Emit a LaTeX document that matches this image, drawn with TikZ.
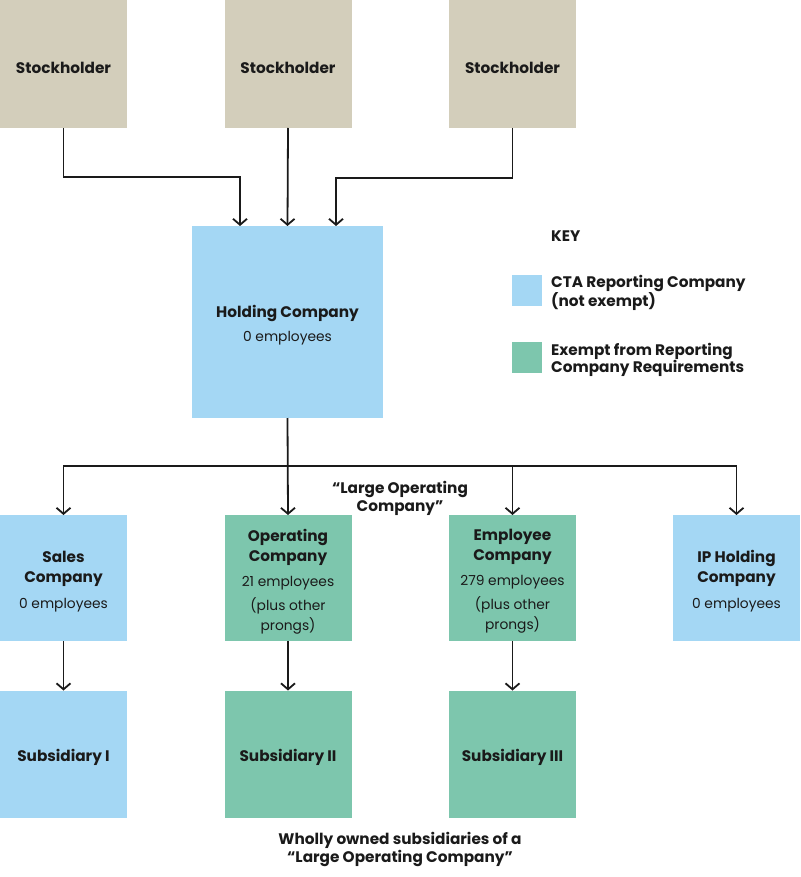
\documentclass[tikz,border=0pt]{standalone}
\usepackage{fontspec}
\setmainfont{Poppins}
\usetikzlibrary{arrows.meta}
\definecolor{beige}{HTML}{D3CEBB}
\definecolor{ctablue}{HTML}{A4D7F4}
\definecolor{exgreen}{HTML}{7DC6AD}
\definecolor{ink}{HTML}{1A1A1A}
\tikzset{
  box/.style={draw=none, inner sep=0pt, outer sep=0pt},
  txt/.style={align=center, inner sep=0pt, text=ink, font=\fontsize{13.8}{20}\selectfont, yshift=-3.5pt},
  stockbox/.style={box, fill=beige, minimum width=127pt, minimum height=128pt},
  bluebox/.style={box, fill=ctablue},
  greenbox/.style={box, fill=exgreen},
  smallbox/.style={minimum width=127pt, minimum height=126pt},
  arr/.style={draw=ink, line width=1.8pt, -{Straight Barb[length=6pt,width=14pt,line width=1.8pt]}},
  keytext/.style={anchor=west, align=left, inner sep=0pt, text=ink, font=\fontsize{15.3}{17.5}\selectfont\bfseries},
  lbl/.style={align=center, inner sep=0pt, text=ink, font=\fontsize{15.3}{18.5}\selectfont\bfseries}
}
\newcommand{\bt}[1]{{\fontsize{15.3}{20}\selectfont\bfseries #1}}
\begin{document}
\begin{tikzpicture}[x=1pt,y=-1pt]
\useasboundingbox (0,0) rectangle (800,877);
% stockholders
\node[stockbox, label={[txt]center:\bt{Stockholder}}] (s1) at (63.5,64) {};
\node[stockbox, label={[txt]center:\bt{Stockholder}}] (s2) at (288,64) {};
\node[stockbox, label={[txt]center:\bt{Stockholder}}] (s3) at (512.5,64) {};
% holding
\node[bluebox, minimum width=191pt, minimum height=192pt, label={[txt]center:\bt{Holding Company}\\[4pt]0 employees}] (h) at (287.5,322) {};
% key
\node[keytext] (keyt) at (551,236) {KEY};
\node[fill=ctablue, minimum width=30pt, minimum height=31pt, inner sep=0pt] (ka) at (527,290) {};
\node[keytext] (kat) at (551,293) {CTA Reporting Company\\(not exempt)};
\node[fill=exgreen, minimum width=30pt, minimum height=31pt, inner sep=0pt] (kb) at (527,357) {};
\node[keytext] (kbt) at (551,360) {Exempt from Reporting\\Company Requirements};
% second row
\node[bluebox, smallbox, label={[txt]center:\bt{Sales}\\\bt{Company}\\[6pt]0 employees}] (sales) at (63.5,578) {};
\node[greenbox, smallbox, label={[txt]center:\bt{Operating}\\\bt{Company}\\[5pt]21 employees\\[4pt](plus other\\prongs)}] (op) at (288,578) {};
\node[greenbox, smallbox, label={[txt]center:\bt{Employee}\\\bt{Company}\\[5pt]279 employees\\[4pt](plus other\\prongs)}] (emp) at (512.5,578) {};
\node[bluebox, smallbox, label={[txt]center:\bt{IP Holding}\\\bt{Company}\\[6pt]0 employees}] (ip) at (736.5,578) {};
% subsidiaries
\node[bluebox, smallbox, minimum height=127pt, label={[txt]center:\bt{Subsidiary I}}] (sub1) at (63.5,754) {};
\node[greenbox, smallbox, minimum height=127pt, label={[txt]center:\bt{Subsidiary II}}] (sub2) at (288,754) {};
\node[greenbox, smallbox, minimum height=127pt, label={[txt]center:\bt{Subsidiary III}}] (sub3) at (512.5,754) {};
% labels
\node[lbl] (lop) at (400,498.5) {“Large Operating\\Company”};
\node[lbl] (wo) at (400,849.5) {Wholly owned subsidiaries of a\\“Large Operating Company”};
% connectors top
\draw[arr] (s1.south) -- ++(0,49) -| ([xshift=-47.5pt]h.north);
\draw[arr] (s2.south) -- (h.north);
\draw[arr] (s3.south) -- ++(0,50) -| ([xshift=48.5pt]h.north);
% bus
\coordinate (bus) at (288,466);
\draw[arr] (h.south) -- (op.north);
\draw[arr] (bus) -| (sales.north);
\draw[arr] (bus) -| (ip.north);
\draw[arr] (emp.north |- bus) -- (emp.north);
% to subsidiaries
\draw[arr] (sales.south) -- (sub1.north);
\draw[arr] (op.south) -- (sub2.north);
\draw[arr] (emp.south) -- (sub3.north);
\end{tikzpicture}
\end{document}
